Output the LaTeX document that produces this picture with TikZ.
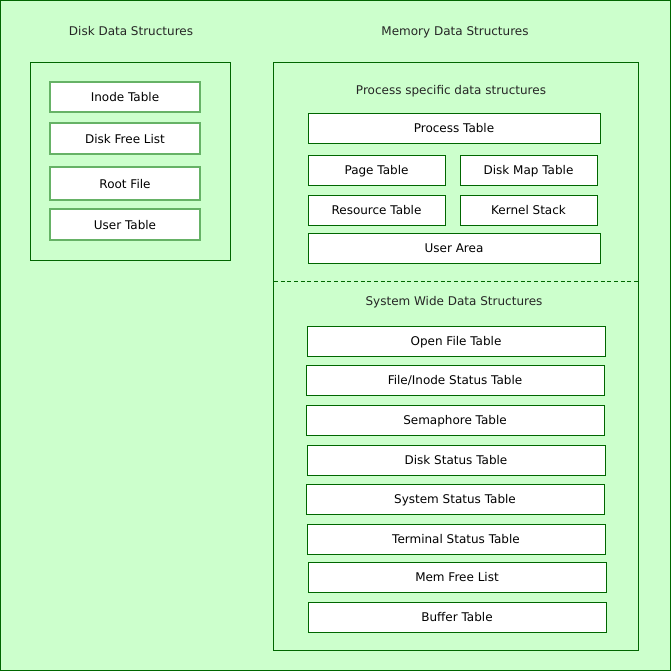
\documentclass[tikz,border=0pt]{standalone}
\usepackage{fontspec}
\setmainfont{DejaVu Sans}
\usetikzlibrary{positioning}
\definecolor{bggreen}{HTML}{CCFFCC}
\definecolor{darkgreen}{HTML}{006600}
\definecolor{softgreen}{HTML}{66B266}

\begin{document}
\begin{tikzpicture}[x=0.75pt, y=-0.75pt, line width=0.75pt,
    font=\fontsize{9}{11}\selectfont,
    disktable/.style={draw=softgreen, line width=1pt, fill=white, minimum width=112.5pt, inner sep=0pt, text depth=0pt},
    memtable/.style={draw=darkgreen, fill=white, inner sep=0pt, minimum height=22.5pt, text depth=0pt},
    title/.style={text=black!85, inner sep=0pt, text depth=0pt}]

    % Background
    \useasboundingbox (0,0) rectangle (671,671);
    \draw[darkgreen, fill=bggreen] (0.5,0.5) rectangle (670.5,670.5);

    \node[title] (disktitle) at (131,31) {Disk Data Structures};
    \node[title] (memtitle) at (455,31) {Memory Data Structures};

    % Disk data structures
    \draw[darkgreen] (30.5,62.5) rectangle (230.5,260.5);
    \node[disktable, minimum height=22.5pt] (inode) at (125,97) {Inode Table};
    \node[disktable, minimum height=23.25pt] (freelist) at (125,138.5) {Disk Free List};
    \node[disktable, minimum height=24.75pt] (rootfile) at (125,183.5) {Root File};
    \node[disktable, minimum height=23.25pt] (usertable) at (125,224.5) {User Table};

    % Memory data structures
    \draw[darkgreen] (273.5,62.5) rectangle (638.5,650.5);
    \node[title] (proctitle) at (451,90) {Process specific data structures};
    \node[memtable, minimum width=219pt] (proctable) at (454,128) {Process Table};
    \node[memtable, minimum width=102.75pt] (pagetable) at (376.5,170) {Page Table};
    \node[memtable, minimum width=102.75pt] (diskmap) at (528.5,170) {Disk Map Table};
    \node[memtable, minimum width=102.75pt] (resource) at (376.5,210) {Resource Table};
    \node[memtable, minimum width=102.75pt] (kstack) at (528.5,210) {Kernel Stack};
    \node[memtable, minimum width=219pt] (userarea) at (454,248) {User Area};

    % Separator
    \draw[darkgreen, line width=0.6pt, dash pattern=on 3pt off 2pt] (274,281.5) -- (638,281.5);

    \node[title] (systitle) at (454,301) {System Wide Data Structures};
    \node[memtable, minimum width=223.5pt] (openfile) at (456,341) {Open File Table};
    \node[memtable, minimum width=223.5pt] (inodestatus) at (455,380) {File/Inode Status Table};
    \node[memtable, minimum width=223.5pt] (semaphore) at (455,420) {Semaphore Table};
    \node[memtable, minimum width=223.5pt] (diskstatus) at (456,460) {Disk Status Table};
    \node[memtable, minimum width=223.5pt] (sysstatus) at (455,499) {System Status Table};
    \node[memtable, minimum width=223.5pt] (termstatus) at (456,539) {Terminal Status Table};
    \node[memtable, minimum width=223.5pt] (memfree) at (457,577) {Mem Free List};
    \node[memtable, minimum width=223.5pt] (buffer) at (457,617) {Buffer Table};

\end{tikzpicture}
\end{document}
